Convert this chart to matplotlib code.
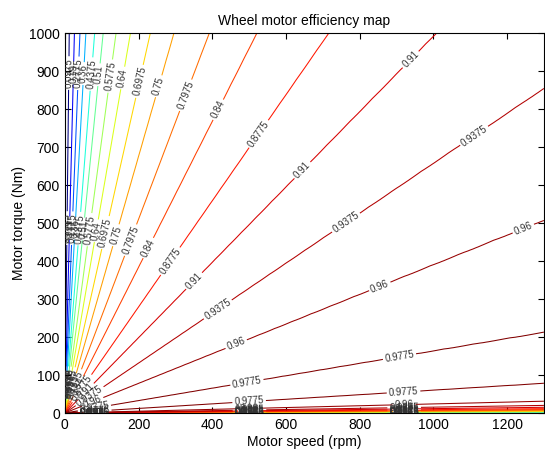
import numpy as np
import matplotlib
matplotlib.use('Agg')
import matplotlib.pyplot as plt

plt.rcParams['font.family'] = ['Liberation Sans', 'DejaVu Sans']

# contour levels (efficiency)
levels = [0.0975, 0.19, 0.2775, 0.36, 0.4375, 0.51, 0.5775, 0.64, 0.6975,
          0.75, 0.7975, 0.84, 0.8775, 0.91, 0.9375, 0.96, 0.9775]
# upper branch (high torque side): rpm where line leaves at 1000 Nm
upper_rpm_at_top = [12, 26, 41, 57, 81, 104, 139, 178, 232, 296, 392, 521, 716, 1008]
# upper branch lines that leave through the right side: torque at 1300 rpm
upper_nm_at_right = [855, 508, 213]
# lower branch (low torque side): torque at 1300 rpm
lower_nm_at_right = [0.3, 0.7, 1.1, 1.5, 2.0, 2.6, 3.3, 4.0, 5.0, 6.0,
                     7.5, 9.0, 11.5, 15, 20, 31, 78]
peak_eff = 0.98

speed_max = 1300
torque_max = 1000

# torque/speed ratio of every contour line
upper_ratio = [torque_max / r for r in upper_rpm_at_top] + [t / speed_max for t in upper_nm_at_right]
lower_ratio = [t / speed_max for t in lower_nm_at_right]
peak_ratio = np.sqrt(upper_ratio[-1] * lower_ratio[-1])

ratios = np.array([1e-7] + lower_ratio + [peak_ratio] + upper_ratio[::-1] + [1e7])
effs = np.array([0.0] + levels + [peak_eff] + levels[::-1] + [0.0])

speed = np.geomspace(0.02, speed_max, 900)
torque = np.geomspace(0.002, torque_max, 900)
N, T = np.meshgrid(speed, torque)
eff = np.interp(np.log(T / N), np.log(ratios), effs)

fig = plt.figure(figsize=(5.45, 4.54), dpi=100)
ax = fig.add_axes([0.119, 0.0903, 0.879, 0.837])
cs = ax.contour(N, T, eff, levels=levels, cmap='jet', vmin=levels[0],
                vmax=levels[-1], linewidths=0.75)
ax.set_xlim(0, speed_max)
ax.set_ylim(0, torque_max)
ax.set_xticks(np.arange(0, 1201, 200))
ax.set_yticks(np.arange(0, 1001, 100))
ax.tick_params(direction='in', top=True, right=True, length=4, labelsize=10)
ax.set_xlabel('Motor speed (rpm)', fontsize=10, labelpad=2)
ax.set_ylabel('Motor torque (Nm)', fontsize=10, labelpad=2)
ax.set_title('Wheel motor efficiency map', fontsize=10, pad=6)

# label positions spaced along each line (screen distance from origin)
sx = 480 / speed_max
sy = 380 / torque_max
dists = [30, 185, 340, 495, 650]
pos = []
for s in upper_ratio + lower_ratio:
    for d in dists:
        n = d / np.sqrt(sx ** 2 + (s * sy) ** 2)
        t = s * n
        if n < 0.97 * speed_max and t < 0.97 * torque_max:
            pos.append((n, t))
ax.clabel(cs, manual=pos, inline=True, inline_spacing=2, fontsize=7,
          colors='#333333', fmt=lambda v: '%g' % v)

fig.savefig('out.png', dpi=100)
